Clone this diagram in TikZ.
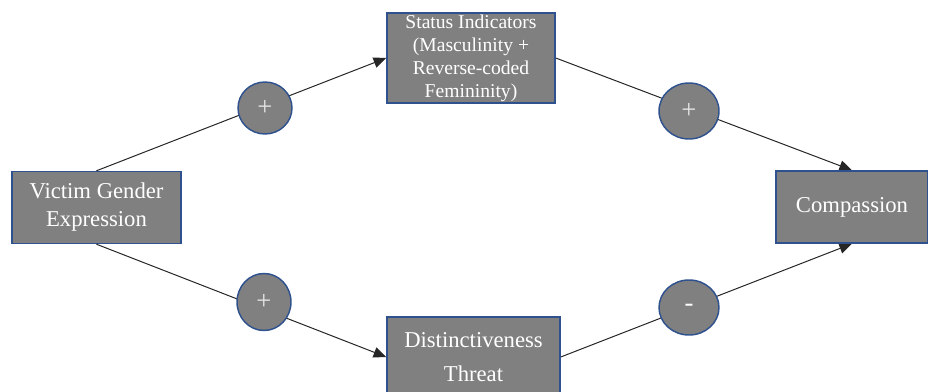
\documentclass[tikz,border=0pt]{standalone}
\usepackage{fontspec}
\setmainfont{Liberation Serif}
\usetikzlibrary{arrows.meta,shapes.geometric,backgrounds}
\definecolor{boxfill}{HTML}{808080}
\definecolor{boxedge}{HTML}{2F528F}
\definecolor{signtext}{HTML}{E6E6E6}
\tikzset{
  varbox/.style={rectangle, draw=boxedge, fill=boxfill, line width=1.1pt,
    text=white, align=center, inner sep=0pt, font=\fontsize{17}{21}\selectfont},
  signbubble/.style={ellipse, draw=boxedge, fill=boxfill, line width=1.1pt,
    text=signtext, inner sep=0pt, font=\fontsize{20}{22}\selectfont},
  path/.style={draw=black!85, line width=0.75pt},
  arrowpath/.style={path, -{Triangle[length=9.5pt,width=8pt]}}
}
\begin{document}
\begin{tikzpicture}[x=0.75pt,y=-0.75pt]
  \useasboundingbox (0,0) rectangle (928,392);
  \clip (0,0) rectangle (928,392);

  % variables
  \node[varbox, minimum width=169*0.75pt, minimum height=72*0.75pt] (vge) at (96.5,207.5)
    {Victim Gender\\Expression};
  \node[varbox, minimum width=168*0.75pt, minimum height=90*0.75pt,
        font=\fontsize{14.7}{17.3}\selectfont] (status) at (471,58)
    {Status Indicators\\(Masculinity +\\Reverse-coded\\Femininity)};
  \node[varbox, minimum width=173*0.75pt, minimum height=80*0.75pt,
        font=\fontsize{17}{25}\selectfont] (dist) at (473.5,357)
    {Distinctiveness\\Threat};
  \node[varbox, minimum width=152*0.75pt, minimum height=72*0.75pt] (comp) at (852,207)
    {Compassion};

  % signs of the paths
  \node[signbubble, minimum width=54*0.75pt, minimum height=52*0.75pt] (s1) at (265,108) {+};
  \node[signbubble, minimum width=54*0.75pt, minimum height=57*0.75pt] (s2) at (264,302) {+};
  \node[signbubble, minimum width=60*0.75pt, minimum height=56*0.75pt] (s3) at (689,111) {+};
  \node[signbubble, minimum width=60*0.75pt, minimum height=55*0.75pt, text=white] (s4) at (689,307.5) {-};

  % paths behind the sign bubbles
  \begin{scope}[on background layer]
    \draw[arrowpath] (vge.north) -- (status.west);
    \draw[arrowpath] (vge.south) -- (dist.west);
    \draw[arrowpath] (status.east) -- (comp.north);
    \draw[arrowpath] (dist.east) -- (comp.south);
  \end{scope}
\end{tikzpicture}
\end{document}
